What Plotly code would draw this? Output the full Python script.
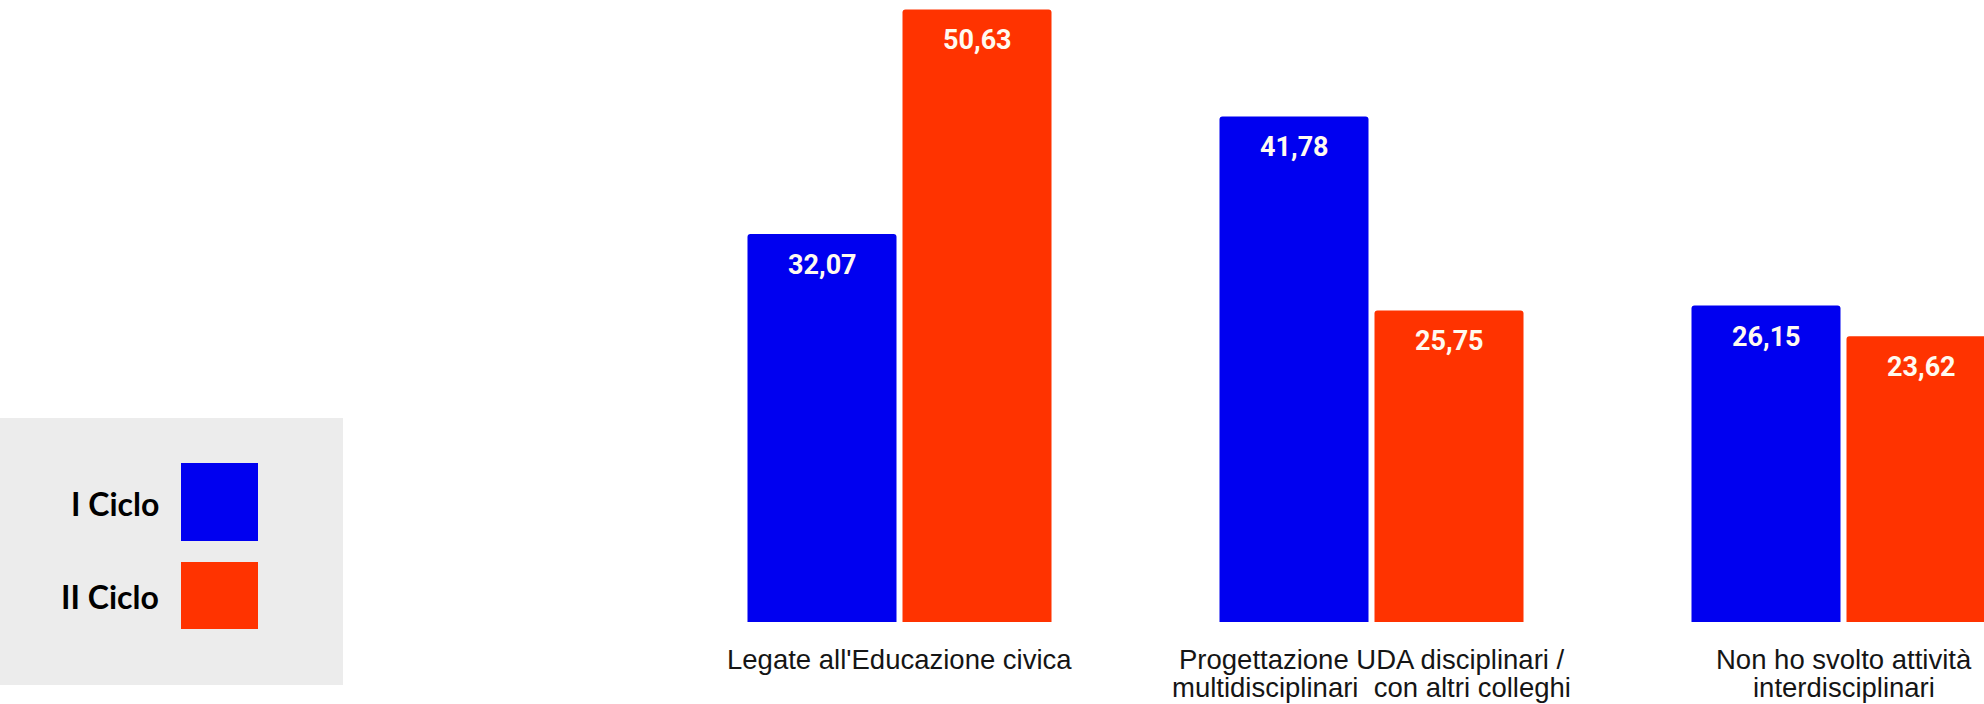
import plotly.graph_objects as go

categories = [
    "Legate all'Educazione civica",
    "Progettazione UDA disciplinari /<br>multidisciplinari&nbsp; con altri colleghi",
    "Non ho svolto attività<br>interdisciplinari",
]
series_names = ["I Ciclo", "II Ciclo"]
ciclo_1 = [32.07, 41.78, 26.15]
ciclo_2 = [50.63, 25.75, 23.62]
colors = ["#0000f0", "#ff3300"]

W, H = 1984, 704
MB = 82
plot_h = H - MB


def px_x(px):
    return px / W


def px_y(py):
    return (plot_h - py) / plot_h


def fmt(v):
    return f"{v:.2f}".replace(".", ",")


fig = go.Figure()
for name, vals, col in zip(series_names, [ciclo_1, ciclo_2], colors):
    fig.add_trace(go.Bar(
        name=name, x=categories, y=vals, marker=dict(color=col, line=dict(width=0)),
        showlegend=False, hoverinfo="skip",
    ))

# value labels inside the top of each bar
for si, vals in enumerate([ciclo_1, ciclo_2]):
    shift = -77.5 if si == 0 else 77.5
    for c, v in zip(categories, vals):
        fig.add_annotation(
            x=c, y=v, xref="x", yref="y", text=fmt(v), showarrow=False,
            xshift=shift, yshift=-31, yanchor="middle", xanchor="center",
            font=dict(family="Roboto", size=27, color="#fffaf0", weight="bold"),
        )

# category labels under the bars (tight line spacing as in the original)
for c in categories:
    for i, line in enumerate(c.split("<br>")):
        fig.add_annotation(
            x=c, y=0, xref="x", yref="y", text=line, showarrow=False,
            yshift=-(37 + 28 * i), yanchor="middle", xanchor="center", borderpad=0,
            font=dict(family="Liberation Sans, Arial", size=27.5, color="#151515"),
        )

# legend drawn as a grey panel with text + swatches
fig.add_shape(type="rect", xref="paper", yref="paper",
              x0=px_x(0), x1=px_x(343), y0=px_y(685), y1=px_y(418),
              fillcolor="#ececec", line=dict(width=0), layer="below")
swatches = [(463, 541), (562, 629)]
text_y = [503.5, 596]
for name, col, (t, b), ty in zip(series_names, colors, swatches, text_y):
    fig.add_shape(type="rect", xref="paper", yref="paper",
                  x0=px_x(181), x1=px_x(258), y0=px_y(b), y1=px_y(t),
                  fillcolor=col, line=dict(width=0))
    fig.add_annotation(x=px_x(161), y=px_y(ty), xref="paper", yref="paper",
                       text=name, showarrow=False, xanchor="right", yanchor="middle",
                       font=dict(family="Lato", size=32, color="#000000", weight="bold"))

fig.update_layout(
    width=W, height=H,
    margin=dict(l=0, r=0, t=0, b=MB, pad=0, autoexpand=False),
    paper_bgcolor="white", plot_bgcolor="white",
    barmode="group", bargap=0.3432, bargroupgap=0.0387,
    barcornerradius=3,
    xaxis=dict(range=[-899.5 / 472, 2 + (W - 1843.5) / 472], showgrid=False,
               showline=False, zeroline=False, ticks="", showticklabels=False,
               automargin=False, fixedrange=True),
    yaxis=dict(range=[0, plot_h / 12.10], visible=False, showgrid=False, fixedrange=True,
               automargin=False),
)

fig.write_html(
    "out.html",
    config={"displayModeBar": False},
    post_script="document.body.style.margin='0';document.body.style.overflow='hidden';",
)
